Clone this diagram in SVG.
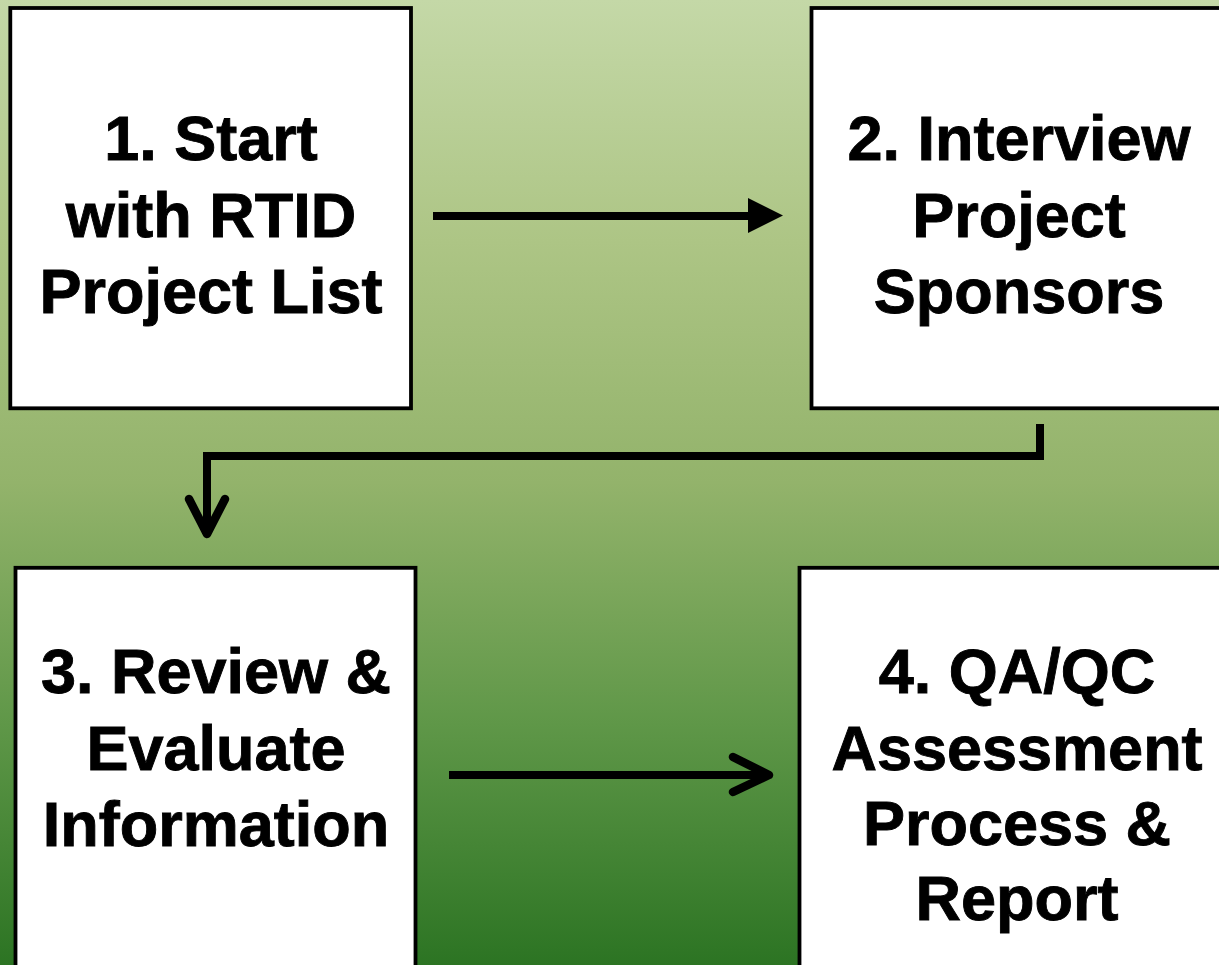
<svg xmlns="http://www.w3.org/2000/svg" width="1219" height="965" viewBox="0 0 1219 965">
  <defs>
    <linearGradient id="bg" x1="0" y1="0" x2="0" y2="1">
      <stop offset="0" stop-color="#c4d8a7"/>
      <stop offset="0.25" stop-color="#adc585"/>
      <stop offset="0.5" stop-color="#93b36b"/>
      <stop offset="0.75" stop-color="#5f9748"/>
      <stop offset="1" stop-color="#2c7423"/>
    </linearGradient>
    <style>
      .box { fill: #ffffff; stroke: #000000; stroke-width: 3.8; }
      .label { font-family: "Liberation Sans", Arial, Helvetica, sans-serif; font-weight: bold; font-size: 63px; fill: #000000; stroke: #000000; stroke-width: 0.9; text-anchor: middle; }
      .wire { fill: none; stroke: #000000; stroke-width: 8; }
      .chev { fill: none; stroke: #000000; stroke-width: 8.5; stroke-linecap: round; stroke-linejoin: round; }
    </style>
  </defs>

  <rect x="0" y="0" width="1219" height="965" fill="url(#bg)"/>

  <g id="node-1">
    <rect class="box" x="10.3" y="8" width="400.7" height="400.3"/>
    <text class="label" x="211" y="160">1. Start</text>
    <text class="label" x="211" y="236.5">with RTID</text>
    <text class="label" x="211" y="313">Project List</text>
  </g>

  <g id="node-2">
    <rect class="box" x="811.5" y="8" width="420" height="400.3"/>
    <text class="label" x="1019" y="160">2. Interview</text>
    <text class="label" x="1019" y="236.5">Project</text>
    <text class="label" x="1019" y="313">Sponsors</text>
  </g>

  <g id="node-3">
    <rect class="box" x="15.5" y="567.8" width="400" height="420"/>
    <text class="label" x="216" y="693">3. Review &amp;</text>
    <text class="label" x="216" y="770">Evaluate</text>
    <text class="label" x="216" y="846">Information</text>
  </g>

  <g id="node-4">
    <rect class="box" x="799.5" y="567.8" width="440" height="420"/>
    <text class="label" x="1017" y="693">4. QA/QC</text>
    <text class="label" x="1017" y="770">Assessment</text>
    <text class="label" x="1017" y="845">Process &amp;</text>
    <text class="label" x="1017" y="920">Report</text>
  </g>

  <g id="connectors">
    <!-- 1 to 2: straight line with a filled head -->
    <line class="wire" x1="433" y1="216" x2="750" y2="216"/>
    <polygon points="748,198 783,215.5 748,233" fill="#000000"/>

    <!-- 2 to 3: elbow back to the left column -->
    <polyline class="wire" points="1040,424 1040,456 207,456 207,534"/>
    <polyline class="chev" points="189,499 207,534 225,499"/>

    <!-- 3 to 4: straight line with an open head -->
    <line class="wire" x1="449" y1="775" x2="768" y2="775"/>
    <polyline class="chev" points="733,757 769,775 733,792"/>
  </g>
</svg>
